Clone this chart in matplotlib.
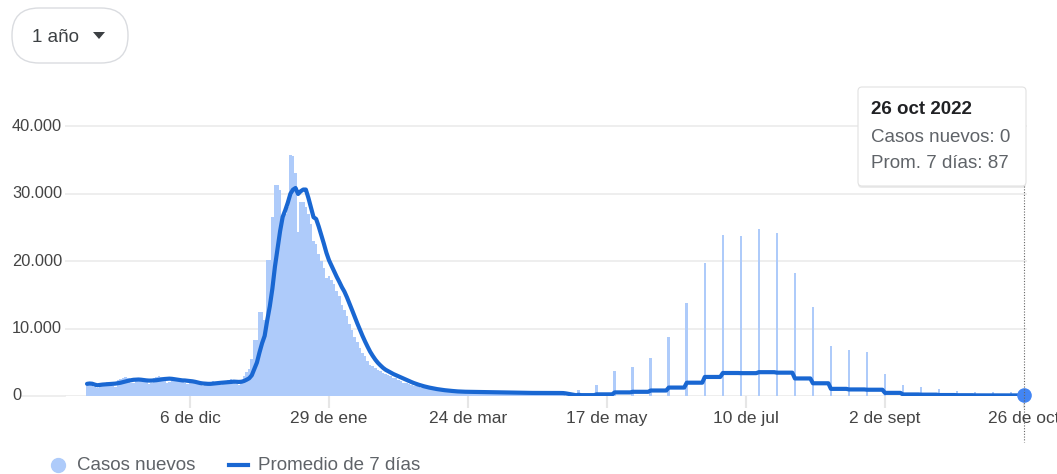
import numpy as np
import pandas as pd
import matplotlib
matplotlib.use("Agg")
import matplotlib.pyplot as plt
import matplotlib.dates as mdates
import matplotlib.transforms as mtrans
from matplotlib.patches import FancyBboxPatch, Polygon
from matplotlib.lines import Line2D

plt.rcParams['font.family'] = ['Liberation Sans', 'DejaVu Sans']

# casos diarios del 27 oct 2021 al 30 abr 2022
daily_start = "2021-10-27"
daily_cases = [
	1800, 1900, 1750, 1300, 1200, 1900, 2000,
	2000, 2100, 1950, 1500, 1400, 2300, 2500,
	2700, 2800, 2600, 2000, 1900, 2500, 2600,
	2500, 2400, 2300, 1800, 1900, 2700, 2800,
	2900, 2800, 2700, 2000, 2100, 2500, 2400,
	2400, 2500, 2300, 1900, 1800, 2200, 2100,
	1900, 1800, 1700, 1500, 1600, 2000, 2100,
	2200, 2100, 2000, 1700, 1800, 2200, 2300,
	2500, 2400, 1800, 1600, 2000, 3000, 3600,
	4000, 5500, 8300, 8300, 12500, 12500, 11250,
	20100, 20100, 26500, 31250, 31250, 30500, 26000,
	27000, 28000, 35700, 35500, 33000, 24300, 28800,
	28800, 28000, 27000, 25500, 23000, 22500, 21000,
	20000, 19000, 17500, 17800, 17200, 16600, 15500,
	14800, 13500, 12800, 11800, 10700, 9800, 8700,
	8000, 7100, 6400, 5900, 5200, 4600, 4400,
	4100, 3800, 3700, 3400, 3200, 3100, 2900,
	2700, 2600, 2400, 2200, 2000, 1900, 1800,
	1600, 1500, 1450, 1300, 1200, 1150, 1100,
	1000, 950, 900, 850, 800, 750, 750,
	700, 700, 650, 600, 600, 600, 550,
	700, 650, 650, 500, 450, 600, 600,
	650, 600, 600, 450, 400, 550, 550,
	600, 550, 550, 400, 400, 500, 500,
	550, 500, 450, 350, 350, 500, 500,
	550, 500, 500, 400, 350, 500, 450,
	500, 450, 450, 350,
]
# desde mayo solo hay un reporte semanal (viernes)
weekly_start = "2022-05-06"
weekly_cases = [900, 1700, 3750, 4350, 5700, 8750, 13800, 19750, 23850, 23700,
				24700, 24200, 18200, 13200, 7400, 6800, 6500, 3250, 1600, 1400,
				1000, 800, 650, 600, 609]
end_date = "2022-10-26"

tick_dates = ["2021-12-06", "2022-01-29", "2022-03-24", "2022-05-17",
			  "2022-07-10", "2022-09-02", "2022-10-26"]
tick_labels = ["6 de dic", "29 de ene", "24 de mar", "17 de may",
			   "10 de jul", "2 de sept", "26 de oct"]
y_ticks = [0, 10000, 20000, 30000, 40000]
y_labels = ["0", "10.000", "20.000", "30.000", "40.000"]

days = pd.date_range(daily_start, end_date, freq="D")
cases = pd.Series(0.0, index=days)
cases.iloc[:len(daily_cases)] = daily_cases
wk = pd.date_range(weekly_start, periods=len(weekly_cases), freq="7D")
cases[wk] = weekly_cases
avg = cases.rolling(7, min_periods=1).mean()

W, H = 1057, 474
fig = plt.figure(figsize=(W / 100, H / 100), dpi=100)

def fx(x):
	return x / W
def fy(y):
	return 1 - y / H
def inch(x, y):
	return (x / 100, (H - y) / 100)

ax_l, ax_r, ax_t, ax_b = 65, 1027, 110, 396
ax = fig.add_axes([fx(ax_l), fy(ax_b), fx(ax_r - ax_l), (ax_b - ax_t) / H])

# escala en x a partir de los ticks (6 dic en px 190, 2.574 px por dia)
ppd = 2.574
d0 = mdates.date2num(pd.Timestamp(tick_dates[0]))
ax.set_xlim(d0 - (190 - ax_l) / ppd, d0 + (ax_r - 190) / ppd)
ax.set_ylim(0, 40000 * (ax_b - ax_t) / 270)

ax.bar(days, cases.values, width=1.0, color='#aecbfa', linewidth=0, zorder=2)
ax.plot(days, avg.values, color='#1967d2', lw=3, solid_joinstyle='round',
		solid_capstyle='round', zorder=3)
ax.plot(days[-1], avg.iloc[-1], 'o', ms=9.5, color='#4285f4', clip_on=False, zorder=5)

for s in ax.spines.values():
	s.set_visible(False)
ax.set_yticks(y_ticks)
ax.yaxis.grid(True, color='#ebebeb', lw=1.2)
ax.set_axisbelow(True)
ax.tick_params(axis='y', length=0, labelleft=False)
ax.set_xticks([pd.Timestamp(t) for t in tick_dates])
ax.set_xticklabels(tick_labels)
ax.tick_params(axis='x', length=8.5, width=1.5, color='#e6e6e6', pad=2,
			   labelsize=12.5, labelcolor='#444')

# etiquetas del eje y alineadas a la izquierda
ytr = mtrans.blended_transform_factory(fig.transFigure, ax.transData)
for v, lab in zip(y_ticks, y_labels):
	fig.text(fx(12), v, lab, transform=ytr, ha='left', va='center',
			 fontsize=11.8, color='#444')
fig.add_artist(Line2D([fx(22), fx(ax_l)], [0, 0], transform=ytr, color='#ebebeb', lw=1.2))

# linea punteada del cursor
xtr = mtrans.blended_transform_factory(ax.transData, fig.transFigure)
xd = mdates.date2num(days[-1])
fig.add_artist(Line2D([xd, xd], [fy(186), fy(442)], transform=xtr, color='#666',
					  lw=0.8, ls=(0, (1, 1.5)), zorder=4))

# tooltip
tr = fig.dpi_scale_trans
bx0, by0, bx1, by1 = 858, 87, 1026, 186
shadow = FancyBboxPatch(inch(bx0, by1 + 2), (bx1 - bx0) / 100, (by1 - by0) / 100,
						boxstyle='round,pad=0,rounding_size=0.04', transform=tr,
						facecolor='#000000', alpha=0.08, edgecolor='none')
fig.patches.append(shadow)
box = FancyBboxPatch(inch(bx0, by1), (bx1 - bx0) / 100, (by1 - by0) / 100,
					 boxstyle='round,pad=0,rounding_size=0.04', transform=tr,
					 facecolor='white', edgecolor='#e2e2e2', lw=0.8)
fig.patches.append(box)
fig.text(*inch(871, 109), "26 oct 2022", transform=tr, fontsize=13.5,
		 fontweight='bold', color='#202124', va='center')
fig.text(*inch(871, 137), "Casos nuevos: %d" % int(cases.iloc[-1]), transform=tr,
		 fontsize=13.5, color='#5f6368', va='center')
fig.text(*inch(871, 164), "Prom. 7 días: %d" % round(avg.iloc[-1]), transform=tr,
		 fontsize=13.5, color='#5f6368', va='center')

# boton "1 año"
btn = FancyBboxPatch(inch(12, 63), 1.16, 0.55, boxstyle='round,pad=0,rounding_size=0.27',
					 transform=tr, facecolor='white', edgecolor='#dadce0', lw=1)
fig.patches.append(btn)
fig.text(*inch(32, 37), "1 año", transform=tr, fontsize=13.5, color='#3c4043', va='center')
tri = Polygon([inch(93, 32), inch(105, 32), inch(99, 39)], closed=True, transform=tr,
			  facecolor='#3c4043', edgecolor='none')
fig.patches.append(tri)

# leyenda
fig.add_artist(Line2D([inch(58, 0)[0]], [inch(0, 465)[1]], transform=tr, marker='o',
					  ms=10, color='#aecbfa', lw=0))
fig.text(*inch(77, 465), "Casos nuevos", transform=tr, fontsize=13.5, color='#5f6368',
		 va='center')
fig.add_artist(Line2D([inch(229, 0)[0], inch(248, 0)[0]], [inch(0, 465)[1]] * 2,
					  transform=tr, color='#1967d2', lw=3))
fig.text(*inch(258, 465), "Promedio de 7 días", transform=tr, fontsize=13.5,
		 color='#5f6368', va='center')

fig.savefig("out.png", dpi=100)
